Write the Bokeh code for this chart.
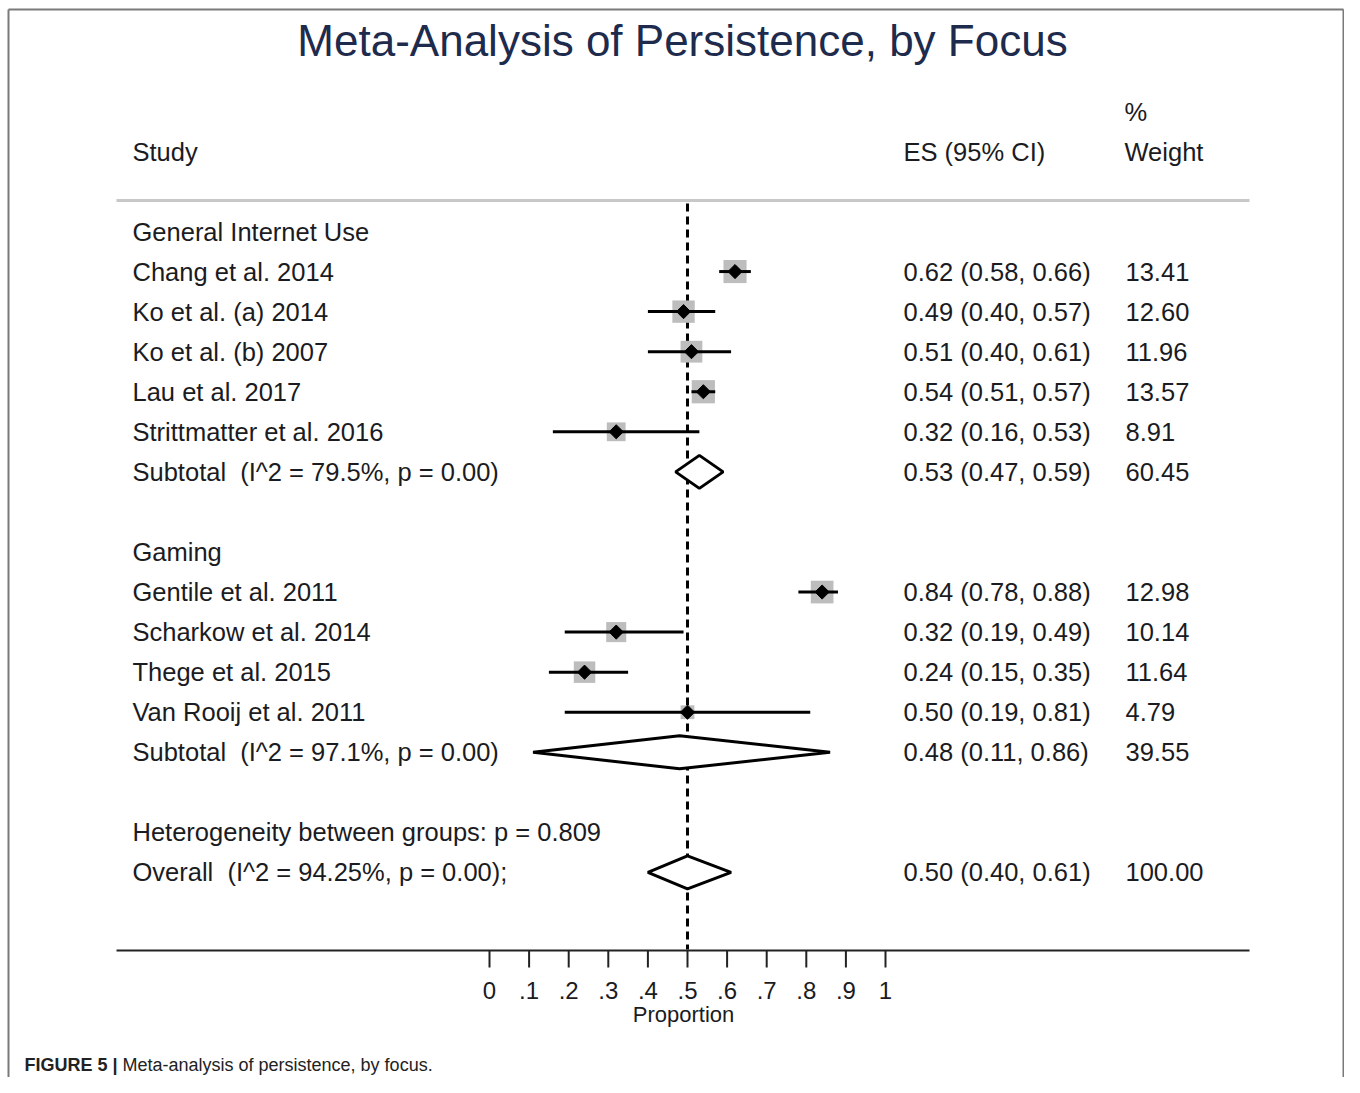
import numpy as np
from bokeh.plotting import figure
from bokeh.models import Range1d, ColumnDataSource
from bokeh.core.properties import value
from bokeh.embed import file_html
from bokeh.resources import INLINE

# ---------------- data ----------------
title = "Meta-Analysis of Persistence, by Focus"
groups = ["General Internet Use", "Gaming"]
studies = ["Chang et al. 2014", "Ko et al. (a) 2014", "Ko et al. (b) 2007",
           "Lau et al. 2017", "Strittmatter et al. 2016",
           "Gentile et al. 2011", "Scharkow et al. 2014", "Thege et al. 2015",
           "Van Rooij et al. 2011"]
study_group = [0, 0, 0, 0, 0, 1, 1, 1, 1]
es = [0.62, 0.49, 0.51, 0.54, 0.32, 0.84, 0.32, 0.24, 0.50]
ci_lo = [0.58, 0.40, 0.40, 0.51, 0.16, 0.78, 0.19, 0.15, 0.19]
ci_hi = [0.66, 0.57, 0.61, 0.57, 0.53, 0.88, 0.49, 0.35, 0.81]
weight = [13.41, 12.60, 11.96, 13.57, 8.91, 12.98, 10.14, 11.64, 4.79]

sub_labels = ["Subtotal \u00a0(I^2 = 79.5%, p = 0.00)", "Subtotal \u00a0(I^2 = 97.1%, p = 0.00)"]
sub_es = [0.53, 0.48]
sub_lo = [0.47, 0.11]
sub_hi = [0.59, 0.86]
sub_weight = [60.45, 39.55]

het_label = "Heterogeneity between groups: p = 0.809"
overall_label = "Overall \u00a0(I^2 = 94.25%, p = 0.00);"
overall_es = 0.50
overall_lo = 0.40
overall_hi = 0.61
overall_weight = 100.00

tick_values = [0, 0.1, 0.2, 0.3, 0.4, 0.5, 0.6, 0.7, 0.8, 0.9, 1.0]
tick_labels = ["0", ".1", ".2", ".3", ".4", ".5", ".6", ".7", ".8", ".9", "1"]
x_label = "Proportion"
caption_bold = "FIGURE 5 |"
caption_text = "Meta-analysis of persistence, by focus."

# ---------------- layout helpers (image pixels -> data coords) ----------------
def vx(px):
    return (px - 489.0) / 396.0

def vy(py):
    return (py - 231.0) / 40.06

FONT = value("Liberation Sans")
TXT = "#1b1b22"
BODY = "25.5px"

# build row layout
rows_label, rows_y = [], []
st_rows = []
sub_rows = []
r = 0
for g in range(len(groups)):
    rows_label.append(groups[g]); rows_y.append(r); r += 1
    for i, s in enumerate(studies):
        if study_group[i] == g:
            rows_label.append(s); rows_y.append(r); st_rows.append(r); r += 1
    rows_label.append(sub_labels[g]); rows_y.append(r); sub_rows.append(r); r += 2
het_row = r
overall_row = r + 1
rows_label += [het_label, overall_label]
rows_y += [het_row, overall_row]

W, H = 1344, 1077
p = figure(width=W, height=H,
           x_range=Range1d(vx(0), vx(W)), y_range=Range1d(vy(H), vy(0)),
           output_backend="svg", toolbar_location=None, min_border=0,
           x_axis_type=None, y_axis_type=None, background_fill_color="white")
p.grid.visible = False
p.outline_line_color = None

# border frame (left, top, right)
p.multi_line(xs=[[vx(8), vx(8)], [vx(8), vx(1343)], [vx(1343), vx(1343)]],
             ys=[[vy(H), vy(9)], [vy(9), vy(9)], [vy(9), vy(H)]],
             line_color="#7a7a7a", line_width=2)

# title
p.text(x=[vx(682)], y=[vy(40)], text=[title], text_font=FONT, text_font_size="44px",
       text_align="center", text_baseline="middle", text_color="#1e2b4d")

# headers
p.text(x=[vx(132), vx(903), vx(1124)], y=[vy(151)] * 3, text=["Study", "ES (95% CI)", "Weight"],
       text_font=FONT, text_font_size=BODY, text_align="left", text_baseline="middle", text_color=TXT)
p.text(x=[vx(1124)], y=[vy(111)], text=["%"], text_font=FONT, text_font_size=BODY,
       text_align="left", text_baseline="middle", text_color=TXT)

# header rule
p.segment(x0=[vx(116)], x1=[vx(1249)], y0=[vy(200)], y1=[vy(200)], line_color="#c8c8c8", line_width=3)

# row labels
p.text(x=[vx(132)] * len(rows_label), y=rows_y, text=rows_label, text_font=FONT,
       text_font_size=BODY, text_align="left", text_baseline="middle", text_color=TXT)

# ES and weight columns
es_txt = [f"{e:.2f} ({l:.2f}, {h:.2f})" for e, l, h in zip(es, ci_lo, ci_hi)]
es_txt += [f"{e:.2f} ({l:.2f}, {h:.2f})" for e, l, h in zip(sub_es, sub_lo, sub_hi)]
es_txt += [f"{overall_es:.2f} ({overall_lo:.2f}, {overall_hi:.2f})"]
w_txt = [f"{w:.2f}" for w in weight] + [f"{w:.2f}" for w in sub_weight] + [f"{overall_weight:.2f}"]
col_y = st_rows + sub_rows + [overall_row]
p.text(x=[vx(903)] * len(col_y), y=col_y, text=es_txt, text_font=FONT, text_font_size=BODY,
       text_align="left", text_baseline="middle", text_color=TXT)
p.text(x=[vx(1125)] * len(col_y), y=col_y, text=w_txt, text_font=FONT, text_font_size=BODY,
       text_align="left", text_baseline="middle", text_color=TXT)

# reference dashed line at overall effect
p.segment(x0=[overall_es], x1=[overall_es], y0=[vy(203)], y1=[vy(949)],
          line_color="black", line_width=3, line_dash="8 5")

# study boxes, CI lines, point markers
src = ColumnDataSource(dict(y=st_rows, es=es, lo=ci_lo, hi=ci_hi,
                            size=[6.3 * np.sqrt(w) for w in weight]))
p.scatter(x="es", y="y", size="size", marker="square", source=src,
          fill_color="#bdbdbd", line_color=None)
p.segment(x0="lo", x1="hi", y0="y", y1="y", source=src, line_color="black", line_width=3)
p.scatter(x="es", y="y", size=10, marker="square", angle=np.pi / 4, source=src,
          fill_color="black", line_color="black")

# diamonds for subtotals and overall
h = 16.5 / 40.06
d_lo = sub_lo + [overall_lo]
d_es = sub_es + [overall_es]
d_hi = sub_hi + [overall_hi]
d_y = sub_rows + [overall_row]
p.patches(xs=[[l, e, hh, e] for l, e, hh in zip(d_lo, d_es, d_hi)],
          ys=[[y, y - h, y, y + h] for y in d_y],
          fill_color="white", line_color="black", line_width=3)

# x axis (drawn)
p.segment(x0=[vx(116)], x1=[vx(1249)], y0=[vy(950)], y1=[vy(950)], line_color="#222222", line_width=2)
p.segment(x0=tick_values, x1=tick_values, y0=[vy(950)] * len(tick_values),
          y1=[vy(967)] * len(tick_values), line_color="#222222", line_width=2)
p.text(x=tick_values, y=[vy(990)] * len(tick_values), text=tick_labels, text_font=FONT,
       text_font_size="24px", text_align="center", text_baseline="middle", text_color=TXT)
p.text(x=[vx(683)], y=[vy(1014)], text=[x_label], text_font=FONT, text_font_size="22px",
       text_align="center", text_baseline="middle", text_color=TXT)

# caption
p.text(x=[vx(24)], y=[vy(1064)], text=[caption_bold], text_font=FONT, text_font_size="18px",
       text_font_style="bold", text_align="left", text_baseline="middle", text_color="#222222")
p.text(x=[vx(122)], y=[vy(1064)], text=[caption_text], text_font=FONT, text_font_size="18px",
       text_align="left", text_baseline="middle", text_color="#222222")

open("out.html", "w").write(file_html(p, INLINE))
